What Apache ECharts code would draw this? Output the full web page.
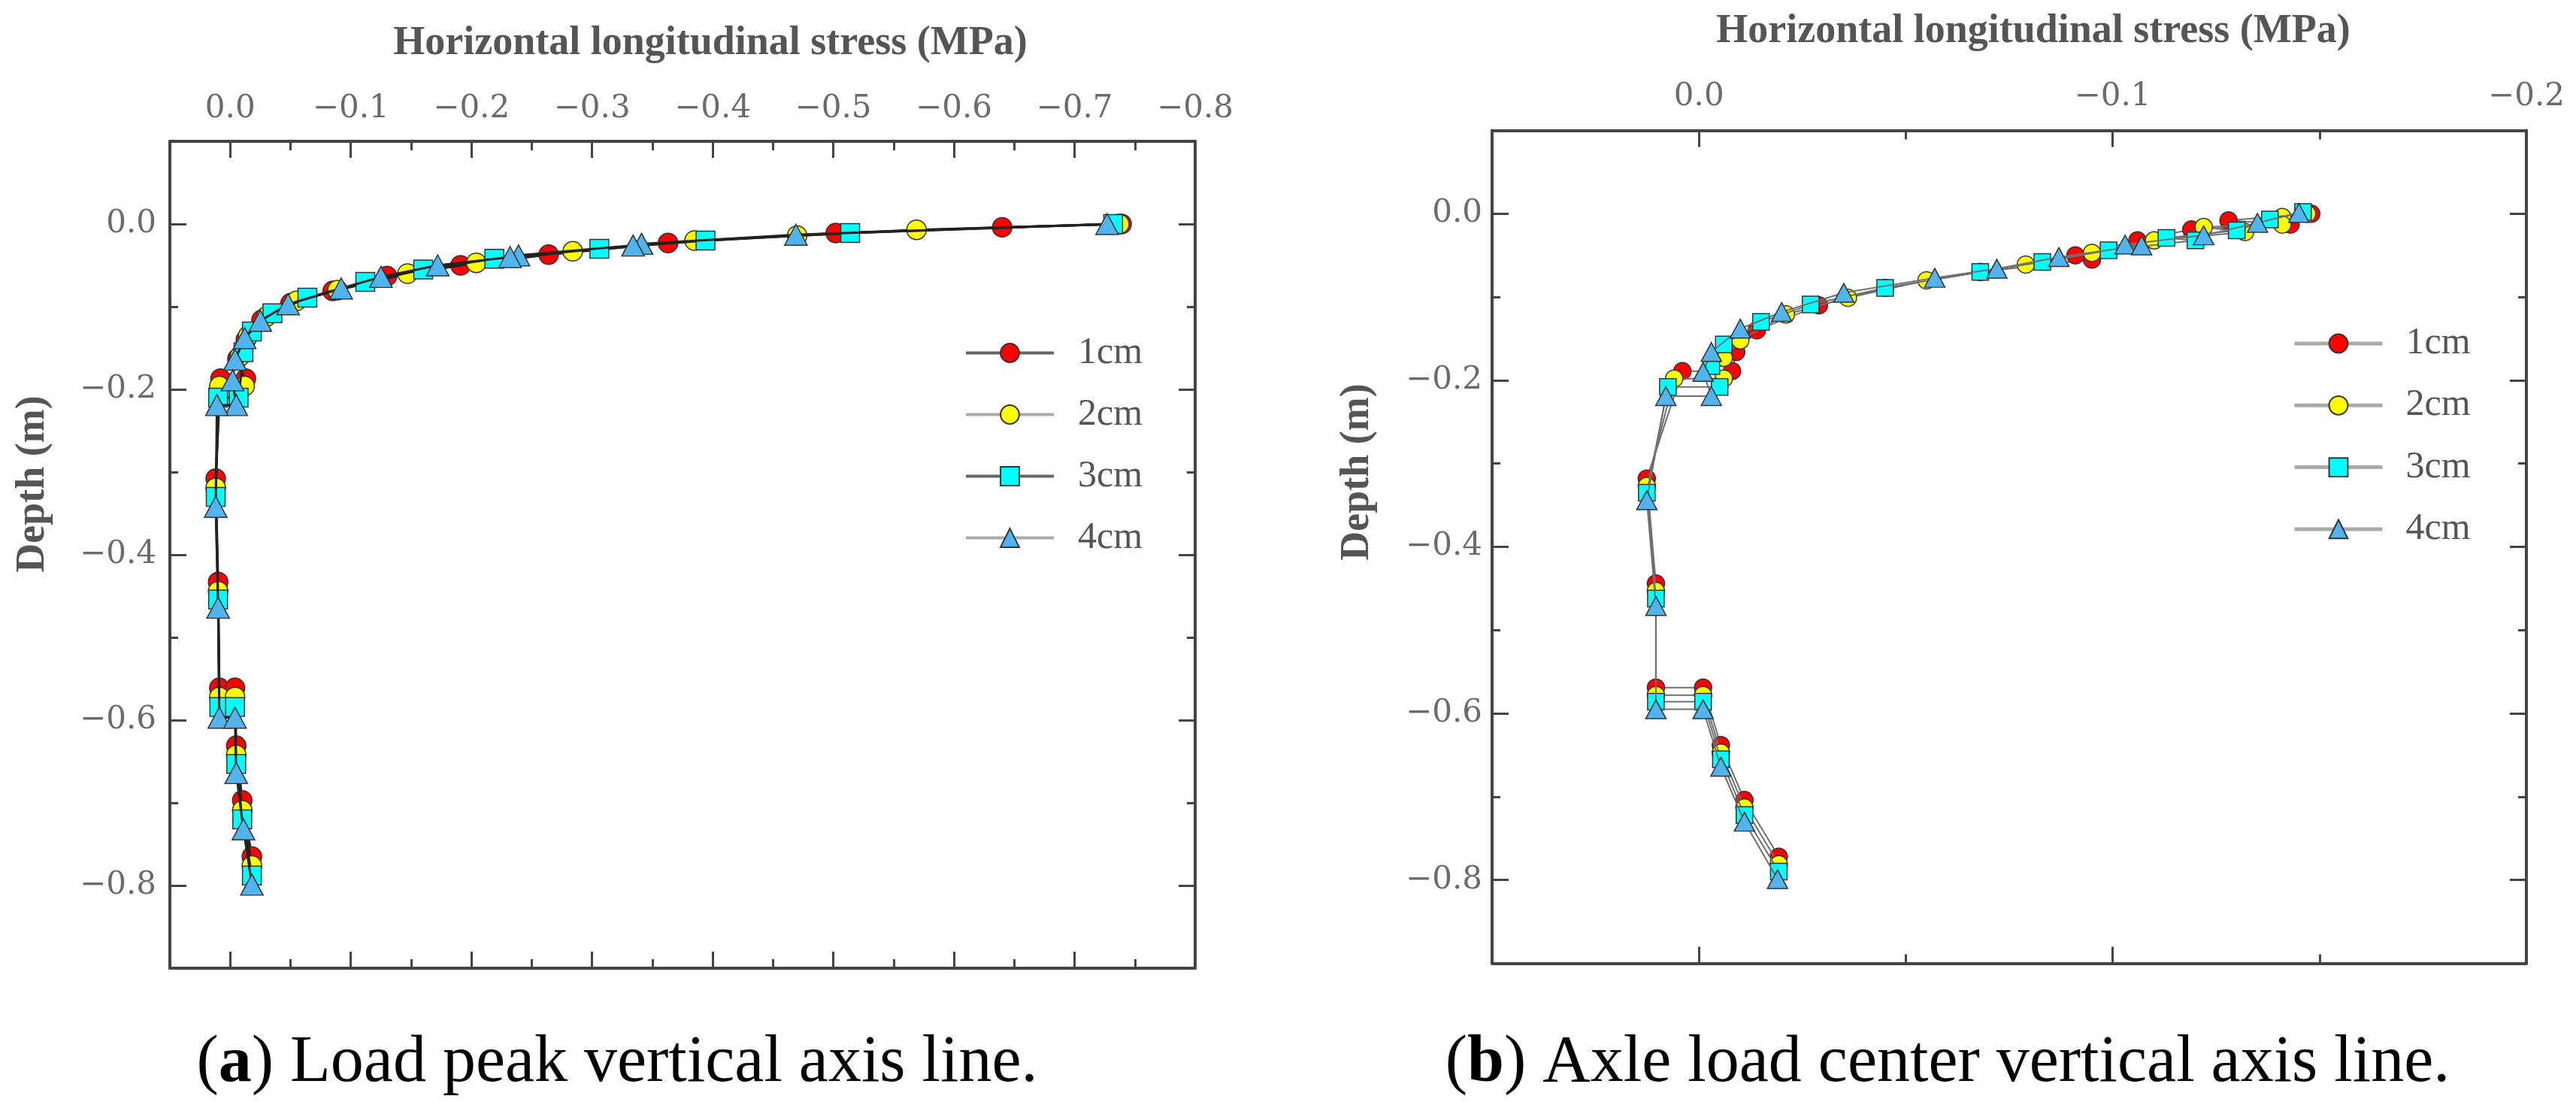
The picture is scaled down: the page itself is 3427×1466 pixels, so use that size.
<!DOCTYPE html>
<html>
<head>
<meta charset="utf-8">
<script src="https://cdn.jsdelivr.net/npm/echarts@6/dist/echarts.min.js"></script>
<style>
html,body{margin:0;padding:0;background:#fff;}
#chart{width:3427px;height:1466px;}
</style>
</head>
<body>
<div id="chart"></div>
<script>
// ---------- data ----------
const seriesNames = ['1cm', '2cm', '3cm', '4cm'];

// (a) Load peak vertical axis line : [stress (MPa), depth (m)]
const a1cm = [[-0.739,0.000],[-0.640,-0.004],[-0.502,-0.011],[-0.363,-0.023],[-0.264,-0.037],[-0.191,-0.050],[-0.130,-0.063],[-0.085,-0.081],[-0.050,-0.096],[-0.026,-0.116],[-0.013,-0.140],[-0.006,-0.163],[-0.013,-0.187],[0.008,-0.187],[0.012,-0.308],[0.010,-0.433],[0.009,-0.561],[-0.004,-0.561],[-0.005,-0.631],[-0.010,-0.697],[-0.018,-0.765]];
const a2cm = [[-0.737,0.000],[-0.569,-0.007],[-0.470,-0.014],[-0.385,-0.020],[-0.284,-0.033],[-0.204,-0.047],[-0.147,-0.060],[-0.089,-0.080],[-0.055,-0.093],[-0.030,-0.112],[-0.015,-0.135],[-0.008,-0.160],[-0.012,-0.196],[0.009,-0.196],[0.012,-0.319],[0.010,-0.444],[0.009,-0.572],[-0.004,-0.572],[-0.005,-0.642],[-0.010,-0.709],[-0.018,-0.776]];
const a3cm = [[-0.732,0.000],[-0.514,-0.011],[-0.394,-0.020],[-0.306,-0.030],[-0.219,-0.042],[-0.160,-0.055],[-0.112,-0.070],[-0.064,-0.089],[-0.035,-0.108],[-0.018,-0.130],[-0.011,-0.155],[-0.007,-0.210],[0.010,-0.210],[0.012,-0.330],[0.010,-0.454],[0.009,-0.584],[-0.004,-0.584],[-0.005,-0.653],[-0.010,-0.720],[-0.018,-0.788]];
const a4cm = [[-0.727,0.000],[-0.469,-0.013],[-0.341,-0.024],[-0.334,-0.026],[-0.239,-0.038],[-0.232,-0.040],[-0.172,-0.050],[-0.125,-0.064],[-0.092,-0.078],[-0.048,-0.097],[-0.025,-0.117],[-0.012,-0.138],[-0.004,-0.164],[-0.002,-0.189],[-0.005,-0.219],[0.011,-0.219],[0.012,-0.342],[0.010,-0.464],[0.009,-0.597],[-0.004,-0.597],[-0.005,-0.664],[-0.011,-0.732],[-0.018,-0.799]];

// (b) Axle load center vertical axis line
const b1cm = [[-0.148,0.000],[-0.128,-0.008],[-0.143,-0.013],[-0.119,-0.019],[-0.106,-0.032],[-0.091,-0.050],[-0.095,-0.055],[-0.068,-0.070],[-0.045,-0.089],[-0.029,-0.110],[-0.014,-0.140],[-0.009,-0.166],[-0.008,-0.189],[0.004,-0.189],[0.0126,-0.318],[0.0104,-0.444],[0.0104,-0.569],[-0.001,-0.569],[-0.0053,-0.638],[-0.011,-0.704],[-0.0193,-0.772]];
const b2cm = [[-0.147,0.000],[-0.141,-0.004],[-0.141,-0.013],[-0.122,-0.016],[-0.132,-0.022],[-0.110,-0.032],[-0.095,-0.047],[-0.079,-0.061],[-0.055,-0.080],[-0.036,-0.101],[-0.021,-0.121],[-0.010,-0.152],[-0.006,-0.173],[-0.006,-0.198],[0.006,-0.198],[0.0126,-0.327],[0.0104,-0.453],[0.0104,-0.578],[-0.001,-0.578],[-0.0053,-0.647],[-0.011,-0.713],[-0.0193,-0.781]];
const b3cm = [[-0.146,0.002],[-0.138,-0.007],[-0.130,-0.020],[-0.113,-0.029],[-0.120,-0.032],[-0.099,-0.044],[-0.083,-0.058],[-0.068,-0.070],[-0.045,-0.089],[-0.027,-0.109],[-0.015,-0.130],[-0.006,-0.157],[-0.003,-0.183],[-0.005,-0.208],[0.0075,-0.208],[0.0126,-0.335],[0.0104,-0.462],[0.0104,-0.586],[-0.001,-0.586],[-0.0053,-0.655],[-0.011,-0.722],[-0.0193,-0.790]];
const b4cm = [[-0.145,0.001],[-0.135,-0.011],[-0.122,-0.026],[-0.103,-0.037],[-0.107,-0.038],[-0.087,-0.052],[-0.072,-0.066],[-0.057,-0.077],[-0.035,-0.095],[-0.020,-0.118],[-0.010,-0.138],[-0.003,-0.166],[-0.001,-0.190],[-0.003,-0.219],[0.008,-0.219],[0.0126,-0.344],[0.0104,-0.471],[0.0104,-0.595],[-0.001,-0.595],[-0.0053,-0.664],[-0.011,-0.730],[-0.019,-0.799]];

// tick values
const depthTicks = [0, -0.2, -0.4, -0.6, -0.8];
const leftStressTicks = [0, -0.1, -0.2, -0.3, -0.4, -0.5, -0.6, -0.7, -0.8];
const rightStressTicks = [0, -0.1, -0.2];

// texts
const xTitle = 'Horizontal longitudinal stress (MPa)';
const yTitle = 'Depth (m)';
const captionA = '({b|a}) Load peak vertical axis line.';
const captionB = '({b|b}) Axle load center vertical axis line.';

// ---------- styling ----------
const markerColors = ['#ff0000', '#ffff00', '#00ffff', '#52b4ee'];
const markerSymbols = ['circle', 'circle', 'rect', 'triangle'];
const FRAME = '#444';
const LABEL_COLOR = '#6b6b6b';

function fmt(v) {
  if (Math.abs(v) < 1e-9) return '0.0';
  return (v < 0 ? '\u2212' : '') + Math.abs(v).toFixed(1);
}

function xAxesFor(g, min, max, majorTicks, margin) {
  const line = {show: true, onZero: false, lineStyle: {color: FRAME, width: 4}};
  const noLine = {show: false, onZero: false};
  const common = {gridIndex: g, type: 'value', inverse: true, min: min, max: max, splitLine: {show: false}};
  return [
    Object.assign({}, common, {position: 'top', interval: 0.1, axisLine: line,
      axisTick: {show: true, inside: true, length: 22, customValues: majorTicks, lineStyle: {color: FRAME, width: 3}},
      axisLabel: {show: true, inside: false, margin: margin, customValues: majorTicks, formatter: fmt,
        color: LABEL_COLOR, fontFamily: 'DejaVu Serif', fontSize: 42}}),
    Object.assign({}, common, {position: 'bottom', interval: 0.1, axisLine: line,
      axisTick: {show: true, inside: true, length: 22, customValues: majorTicks, lineStyle: {color: FRAME, width: 3}},
      axisLabel: {show: false}}),
    Object.assign({}, common, {position: 'top', interval: 0.05, axisLine: noLine,
      axisTick: {show: true, inside: true, length: 12, lineStyle: {color: FRAME, width: 3}},
      axisLabel: {show: false}}),
    Object.assign({}, common, {position: 'bottom', interval: 0.05, axisLine: noLine,
      axisTick: {show: true, inside: true, length: 12, lineStyle: {color: FRAME, width: 3}},
      axisLabel: {show: false}})
  ];
}

function yAxesFor(g, margin) {
  const line = {show: true, onZero: false, lineStyle: {color: FRAME, width: 4}};
  const noLine = {show: false, onZero: false};
  const common = {gridIndex: g, type: 'value', min: -0.9, max: 0.1, interval: 0.1, splitLine: {show: false}};
  return [
    Object.assign({}, common, {position: 'left', axisLine: line,
      axisTick: {show: true, inside: true, length: 22, customValues: depthTicks, lineStyle: {color: FRAME, width: 3}},
      axisLabel: {show: true, margin: margin, customValues: depthTicks, formatter: fmt,
        color: LABEL_COLOR, fontFamily: 'DejaVu Serif', fontSize: 42}}),
    Object.assign({}, common, {position: 'right', axisLine: line,
      axisTick: {show: true, inside: true, length: 22, customValues: depthTicks, lineStyle: {color: FRAME, width: 3}},
      axisLabel: {show: false}}),
    Object.assign({}, common, {position: 'left', axisLine: noLine,
      axisTick: {show: true, inside: true, length: 11, lineStyle: {color: FRAME, width: 3}},
      axisLabel: {show: false}}),
    Object.assign({}, common, {position: 'right', axisLine: noLine,
      axisTick: {show: true, inside: true, length: 11, lineStyle: {color: FRAME, width: 3}},
      axisLabel: {show: false}})
  ];
}

function makeSeries(datas, xIdx, yIdx, sizes, lineColor, lineWidth) {
  return datas.map((d, i) => ({
    name: seriesNames[i],
    type: 'line',
    xAxisIndex: xIdx,
    yAxisIndex: yIdx,
    data: d,
    symbol: markerSymbols[i],
    symbolSize: sizes[i],
    showAllSymbol: true,
    animation: false,
    lineStyle: {color: lineColor, width: lineWidth},
    itemStyle: {color: markerColors[i], borderColor: '#333', borderWidth: 1.5},
    emphasis: {disabled: true},
    z: 2 + i
  }));
}

const chart = echarts.init(document.getElementById('chart'), null, {renderer: 'canvas'});

const titleFont = 'bold 54px "Liberation Serif"';
const captionFont = '88px "Liberation Serif"';

const option = {
  backgroundColor: '#ffffff',
  animation: false,
  grid: [
    {left: 226, top: 188, width: 1364, height: 1100, containLabel: false},
    {left: 1985, top: 173.5, width: 1376, height: 1108, containLabel: false}
  ],
  xAxis: xAxesFor(0, -0.8, 0.05, leftStressTicks, 22).concat(xAxesFor(1, -0.2, 0.05, rightStressTicks, 23)),
  yAxis: yAxesFor(0, 18).concat(yAxesFor(1, 13)),
  legend: [
    {
      orient: 'vertical', left: 1278, top: 439.5, itemWidth: 117, itemHeight: 31, itemGap: 32,
      selectedMode: false,
      data: [
        {name: '1cm', lineStyle: {color: '#666', width: 4}},
        {name: '2cm', lineStyle: {color: '#aaa', width: 4}},
        {name: '3cm', lineStyle: {color: '#666', width: 4}},
        {name: '4cm', lineStyle: {color: '#aaa', width: 4}}
      ],
      textStyle: {fontFamily: 'Liberation Serif', fontSize: 50, color: '#555', lineHeight: 31, padding: [0, 0, 0, 27]}
    },
    {
      orient: 'vertical', left: 3045, top: 427, itemWidth: 117, itemHeight: 31, itemGap: 32.3,
      selectedMode: false,
      data: [
        {name: '1cm', lineStyle: {color: '#aaa', width: 5}},
        {name: '2cm', lineStyle: {color: '#aaa', width: 5}},
        {name: '3cm', lineStyle: {color: '#aaa', width: 5}},
        {name: '4cm', lineStyle: {color: '#aaa', width: 5}}
      ],
      textStyle: {fontFamily: 'Liberation Serif', fontSize: 50, color: '#555', lineHeight: 31, padding: [0, 0, 0, 26]}
    }
  ],
  series: makeSeries([a1cm, a2cm, a3cm, a4cm], 0, 0, [26, 26, 25, [30, 28]], '#222', 3)
    .concat(makeSeries([b1cm, b2cm, b3cm, b4cm], 4, 4, [23, 23, 22, [27, 25]], '#6f6f6f', 2)),
  graphic: [
    {type: 'text', x: 945, y: 58, style: {text: xTitle, font: titleFont, fill: '#555', align: 'center', verticalAlign: 'middle'}},
    {type: 'text', x: 2705, y: 42, style: {text: xTitle, font: titleFont, fill: '#555', align: 'center', verticalAlign: 'middle'}},
    {type: 'text', x: 44, y: 644, rotation: Math.PI / 2, style: {text: yTitle, font: titleFont, fill: '#555', align: 'center', verticalAlign: 'middle'}},
    {type: 'text', x: 1806, y: 628, rotation: Math.PI / 2, style: {text: yTitle, font: titleFont, fill: '#555', align: 'center', verticalAlign: 'middle'}},
    {type: 'text', x: 821, y: 1415, style: {text: captionA, font: captionFont, fill: '#000', align: 'center', verticalAlign: 'middle',
      rich: {b: {fontWeight: 'bold', fontSize: 88, fontFamily: 'Liberation Serif', fill: '#000'}}}},
    {type: 'text', x: 2591, y: 1415, style: {text: captionB, font: captionFont, fill: '#000', align: 'center', verticalAlign: 'middle',
      rich: {b: {fontWeight: 'bold', fontSize: 88, fontFamily: 'Liberation Serif', fill: '#000'}}}}
  ]
};

chart.setOption(option);
</script>
</body>
</html>
